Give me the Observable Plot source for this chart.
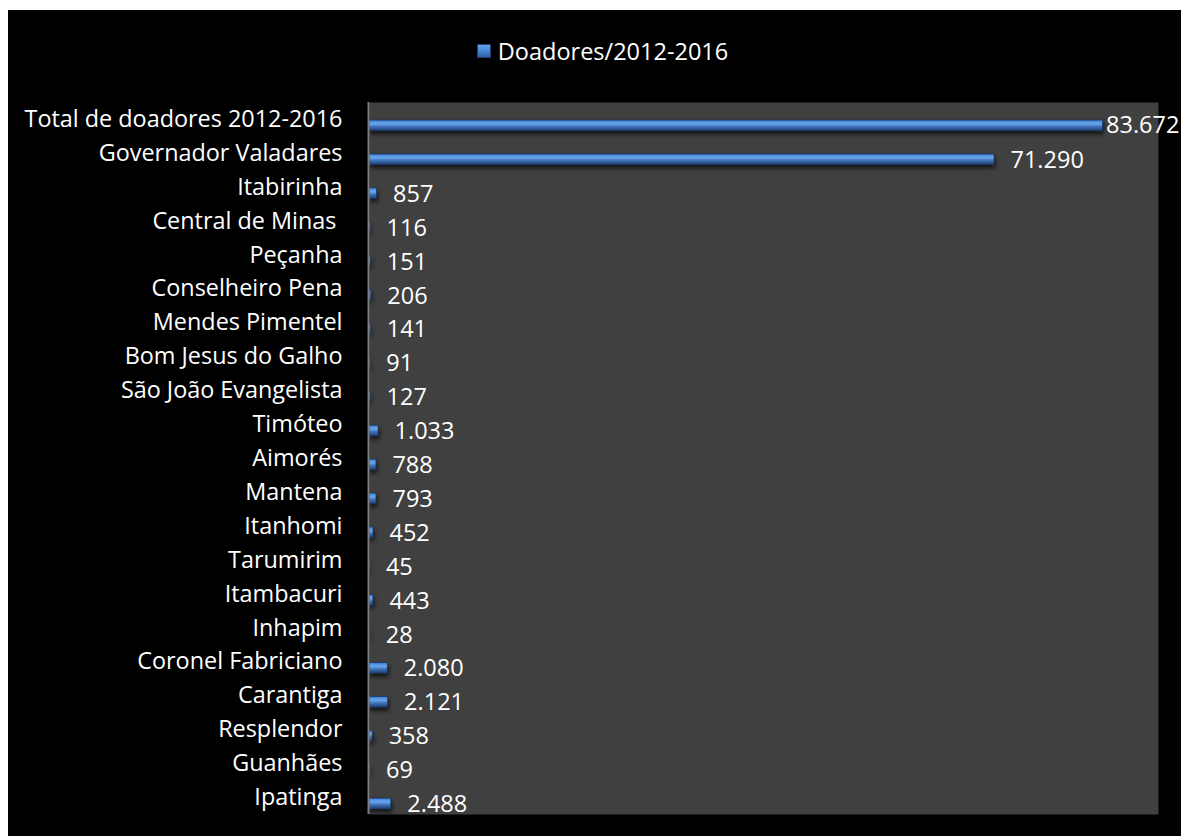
<!DOCTYPE html>
<html><head><meta charset="utf-8">
<script src="https://cdn.jsdelivr.net/npm/d3@7"></script>
<script src="https://cdn.jsdelivr.net/npm/@observablehq/plot@0.6"></script>
<style>
html,body{margin:0;padding:0;background:#fff;width:1181px;height:836px;overflow:hidden}
#wrap{position:absolute;left:8px;top:10px;width:1173px;height:826px;background:#000;font-family:"Open Sans","Noto Sans",sans-serif}
#legend{height:82px;display:flex;justify-content:center;align-items:center;color:#fff;font-size:23.5px;padding-left:16px;box-sizing:border-box;padding-top:0px}
#legend .sw{width:14px;height:14px;margin-right:7px;background:linear-gradient(180deg,#6aa6ec 0%,#4a8de0 40%,#2e5a9c 100%);box-shadow:inset 0 0 0 1px #1f3f73}
</style></head>
<body><div id="wrap"><div id="legend"><span class="sw"></span><span>Doadores/2012-2016</span></div><div id="chart"></div></div>
<script>
const municipios = ["Total de doadores 2012-2016","Governador Valadares","Itabirinha","Central de Minas ","Peçanha","Conselheiro Pena","Mendes Pimentel","Bom Jesus do Galho","São João Evangelista","Timóteo","Aimorés","Mantena","Itanhomi","Tarumirim","Itambacuri","Inhapim","Coronel Fabriciano","Carantiga","Resplendor","Guanhães","Ipatinga"];
const doadores = [83672,71290,857,116,151,206,141,91,127,1033,788,793,452,45,443,28,2080,2121,358,69,2488];
const data = municipios.map((m,i)=>({municipio:m, valor:doadores[i]}));
const fmt = d3.formatLocale({decimal:",",thousands:".",grouping:[3],currency:["R$",""]}).format(",d");
const maxVal = d3.max(doadores);

const chart = Plot.plot({
  width:1173, height:744,
  marginTop:10, marginBottom:22, marginLeft:361, marginRight:23,
  style:{background:"transparent", color:"#fff", fontFamily:"'Open Sans', 'Noto Sans', sans-serif", fontSize:"23px", fontWeight:"normal", overflow:"visible"},
  x:{domain:[0,90000], axis:null},
  y:{domain:municipios, padding:0, round:false, label:null, tickSize:0, tickPadding:27},
  marks:[
    Plot.frame({fill:"#404040", stroke:null}),
    Plot.barX(data,{x:"valor", y:"municipio", fill:"url(#barGrad)", stroke:"#1a3560", strokeWidth:0.6, insetTop:18, insetBottom:5}),
    Plot.text(data.filter(d=>d.valor!==maxVal),{x:"valor", y:"municipio", text:d=>fmt(d.valor), textAnchor:"start", dx:16, dy:7, fill:"#fff", fontSize:23.5}),
    Plot.text(data.filter(d=>d.valor===maxVal),{x:"valor", y:"municipio", text:d=>fmt(d.valor), textAnchor:"start", dx:3, dy:6, fill:"#fff", fontSize:23.5}),
    Plot.ruleX([0],{stroke:"#7f7f7f", strokeWidth:2, dx:-1})
  ]
});
const svg = d3.select(chart);
const defs = svg.insert("defs",":first-child");
const g = defs.append("linearGradient").attr("id","barGrad").attr("x1",0).attr("y1",0).attr("x2",0).attr("y2",1);
[["0%","#2f5f9e"],["12%","#4a8de0"],["35%","#6aa6ec"],["60%","#3f74bc"],["100%","#1d3a66"]].forEach(([o,c])=>g.append("stop").attr("offset",o).attr("stop-color",c));
svg.selectAll("g[aria-label='bar']").style("filter","drop-shadow(1px 3px 2px rgba(0,0,0,0.7))");
svg.selectAll("g[aria-label='y-axis tick label']").attr("fill","#fff").style("font-size","23.4px");
document.getElementById("chart").append(chart);
</script></body></html>
